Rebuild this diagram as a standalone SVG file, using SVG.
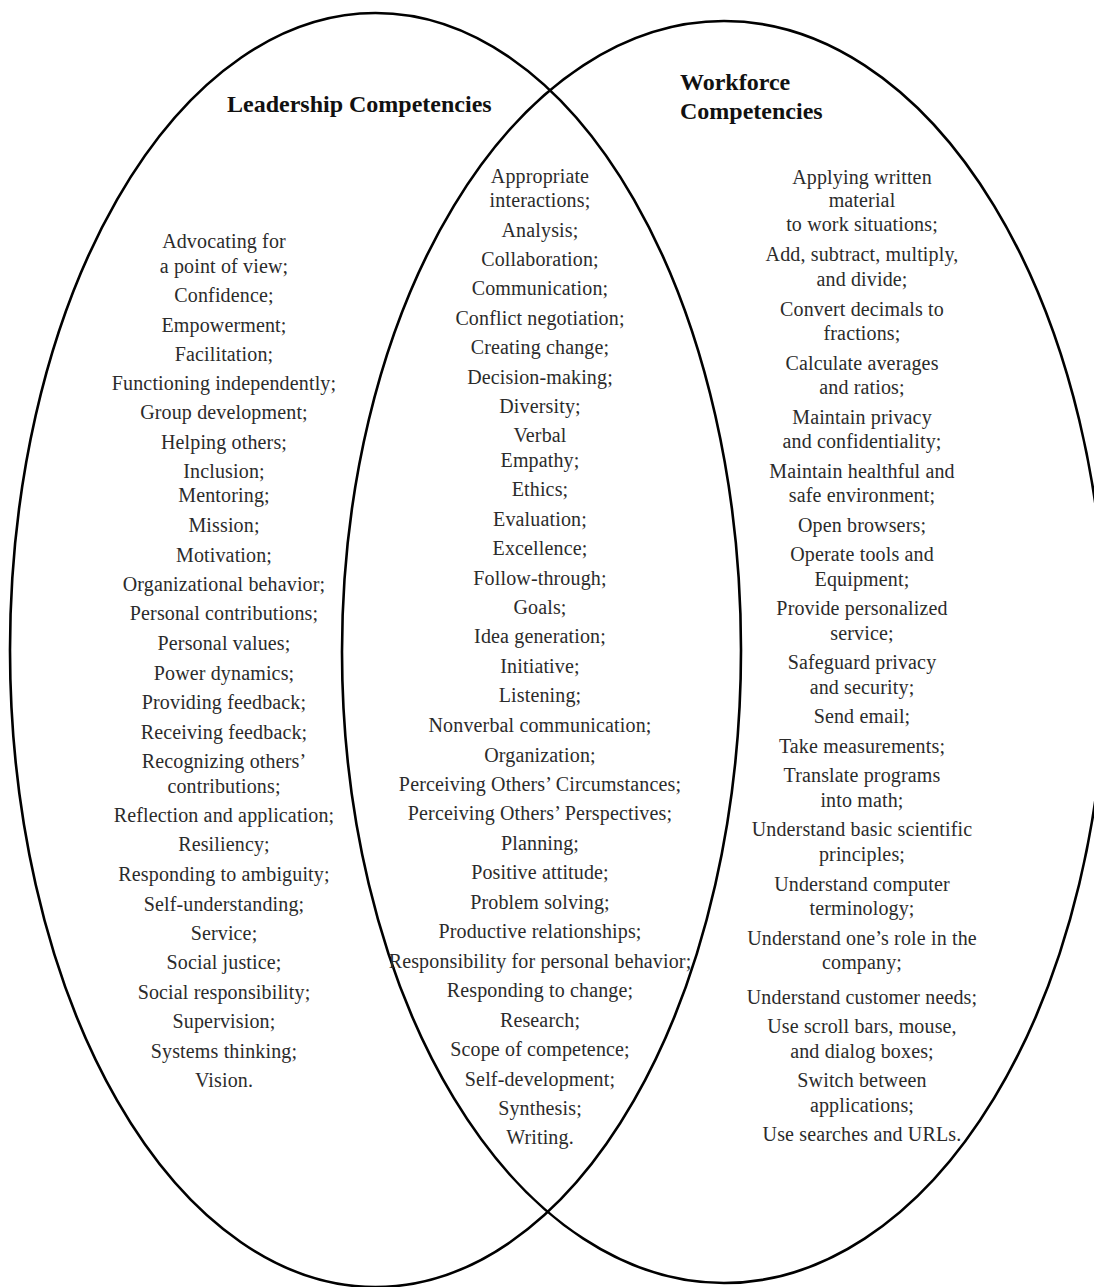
<svg xmlns="http://www.w3.org/2000/svg" width="1094" height="1287" viewBox="0 0 1094 1287">
<style>
.ring{fill:none;stroke:#000;stroke-width:2.6}
.t{font-family:"Liberation Serif","Times New Roman",serif;font-size:20px;letter-spacing:0.15px;fill:#2b2b2b;text-anchor:middle}
.h{font-family:"Liberation Serif","Times New Roman",serif;font-size:24px;font-weight:bold;fill:#111}
</style>
<rect width="1094" height="1287" fill="#fff"/>
<g id="circles">
<ellipse id="leadership-circle" class="ring" cx="375.5" cy="650" rx="365.5" ry="637"/>
<ellipse id="workforce-circle" class="ring" cx="724" cy="652" rx="382" ry="631"/>
</g>
<g id="titles">
<text class="h" x="227" y="112">Leadership Competencies</text>
<text class="h" x="680" y="90">Workforce</text>
<text class="h" x="680" y="119">Competencies</text>
</g>
<g id="leadership-list">
<text class="t" x="224" y="248">Advocating for</text>
<text class="t" x="224" y="273">a point of view;</text>
<text class="t" x="224" y="302">Confidence;</text>
<text class="t" x="224" y="332">Empowerment;</text>
<text class="t" x="224" y="361">Facilitation;</text>
<text class="t" x="224" y="390">Functioning independently;</text>
<text class="t" x="224" y="419">Group development;</text>
<text class="t" x="224" y="449">Helping others;</text>
<text class="t" x="224" y="478">Inclusion;</text>
<text class="t" x="224" y="502">Mentoring;</text>
<text class="t" x="224" y="532">Mission;</text>
<text class="t" x="224" y="562">Motivation;</text>
<text class="t" x="224" y="591">Organizational behavior;</text>
<text class="t" x="224" y="620">Personal contributions;</text>
<text class="t" x="224" y="650">Personal values;</text>
<text class="t" x="224" y="680">Power dynamics;</text>
<text class="t" x="224" y="709">Providing feedback;</text>
<text class="t" x="224" y="739">Receiving feedback;</text>
<text class="t" x="224" y="768">Recognizing others’</text>
<text class="t" x="224" y="793">contributions;</text>
<text class="t" x="224" y="822">Reflection and application;</text>
<text class="t" x="224" y="851">Resiliency;</text>
<text class="t" x="224" y="881">Responding to ambiguity;</text>
<text class="t" x="224" y="911">Self-understanding;</text>
<text class="t" x="224" y="940">Service;</text>
<text class="t" x="224" y="969">Social justice;</text>
<text class="t" x="224" y="999">Social responsibility;</text>
<text class="t" x="224" y="1028">Supervision;</text>
<text class="t" x="224" y="1058">Systems thinking;</text>
<text class="t" x="224" y="1087">Vision.</text>
</g>
<g id="shared-list">
<text class="t" x="540" y="183">Appropriate</text>
<text class="t" x="540" y="207">interactions;</text>
<text class="t" x="540" y="237">Analysis;</text>
<text class="t" x="540" y="266">Collaboration;</text>
<text class="t" x="540" y="295">Communication;</text>
<text class="t" x="540" y="325">Conflict negotiation;</text>
<text class="t" x="540" y="354">Creating change;</text>
<text class="t" x="540" y="384">Decision-making;</text>
<text class="t" x="540" y="413">Diversity;</text>
<text class="t" x="540" y="442">Verbal</text>
<text class="t" x="540" y="467">Empathy;</text>
<text class="t" x="540" y="496">Ethics;</text>
<text class="t" x="540" y="526">Evaluation;</text>
<text class="t" x="540" y="555">Excellence;</text>
<text class="t" x="540" y="585">Follow-through;</text>
<text class="t" x="540" y="614">Goals;</text>
<text class="t" x="540" y="643">Idea generation;</text>
<text class="t" x="540" y="673">Initiative;</text>
<text class="t" x="540" y="702">Listening;</text>
<text class="t" x="540" y="732">Nonverbal communication;</text>
<text class="t" x="540" y="762">Organization;</text>
<text class="t" x="540" y="791">Perceiving Others’ Circumstances;</text>
<text class="t" x="540" y="820">Perceiving Others’ Perspectives;</text>
<text class="t" x="540" y="850">Planning;</text>
<text class="t" x="540" y="879">Positive attitude;</text>
<text class="t" x="540" y="909">Problem solving;</text>
<text class="t" x="540" y="938">Productive relationships;</text>
<text class="t" x="540" y="968">Responsibility for personal behavior;</text>
<text class="t" x="540" y="997">Responding to change;</text>
<text class="t" x="540" y="1027">Research;</text>
<text class="t" x="540" y="1056">Scope of competence;</text>
<text class="t" x="540" y="1086">Self-development;</text>
<text class="t" x="540" y="1115">Synthesis;</text>
<text class="t" x="540" y="1144">Writing.</text>
</g>
<g id="workforce-list">
<text class="t" x="862" y="184">Applying written</text>
<text class="t" x="862" y="207">material</text>
<text class="t" x="862" y="231">to work situations;</text>
<text class="t" x="862" y="261">Add, subtract, multiply,</text>
<text class="t" x="862" y="286">and divide;</text>
<text class="t" x="862" y="316">Convert decimals to</text>
<text class="t" x="862" y="340">fractions;</text>
<text class="t" x="862" y="370">Calculate averages</text>
<text class="t" x="862" y="394">and ratios;</text>
<text class="t" x="862" y="424">Maintain privacy</text>
<text class="t" x="862" y="448">and confidentiality;</text>
<text class="t" x="862" y="478">Maintain healthful and</text>
<text class="t" x="862" y="502">safe environment;</text>
<text class="t" x="862" y="532">Open browsers;</text>
<text class="t" x="862" y="561">Operate tools and</text>
<text class="t" x="862" y="586">Equipment;</text>
<text class="t" x="862" y="615">Provide personalized</text>
<text class="t" x="862" y="640">service;</text>
<text class="t" x="862" y="669">Safeguard privacy</text>
<text class="t" x="862" y="694">and security;</text>
<text class="t" x="862" y="723">Send email;</text>
<text class="t" x="862" y="753">Take measurements;</text>
<text class="t" x="862" y="782">Translate programs</text>
<text class="t" x="862" y="807">into math;</text>
<text class="t" x="862" y="836">Understand basic scientific</text>
<text class="t" x="862" y="861">principles;</text>
<text class="t" x="862" y="891">Understand computer</text>
<text class="t" x="862" y="915">terminology;</text>
<text class="t" x="862" y="945">Understand one’s role in the</text>
<text class="t" x="862" y="969">company;</text>
<text class="t" x="862" y="1004">Understand customer needs;</text>
<text class="t" x="862" y="1033">Use scroll bars, mouse,</text>
<text class="t" x="862" y="1058">and dialog boxes;</text>
<text class="t" x="862" y="1087">Switch between</text>
<text class="t" x="862" y="1112">applications;</text>
<text class="t" x="862" y="1141">Use searches and URLs.</text>
</g>
</svg>
